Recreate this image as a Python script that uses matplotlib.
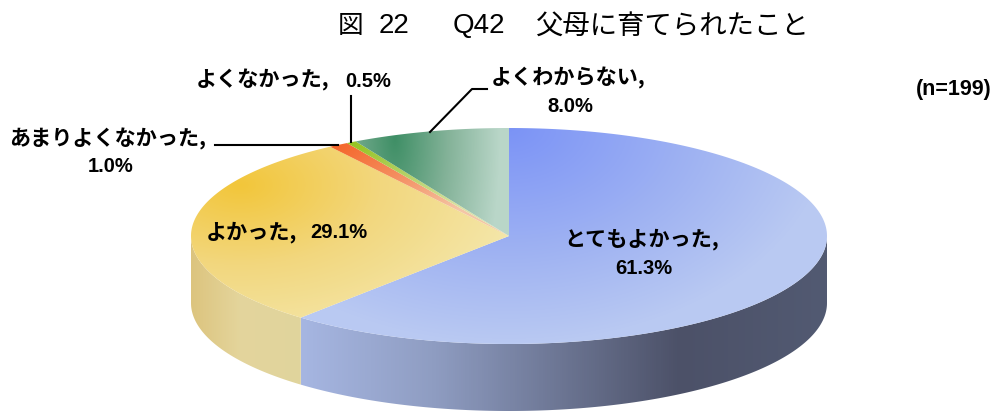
import numpy as np
import matplotlib
matplotlib.use("Agg")
import matplotlib.pyplot as plt
from matplotlib.colors import LinearSegmentedColormap
from matplotlib.patches import Polygon

# slices, clockwise from 12 o'clock
categories = ["とてもよかった", "よかった", "あまりよくなかった", "よくなかった", "よくわからない"]
shares = [61.3, 29.1, 1.0, 0.5, 8.0]

top_stops = [
    ["#7b93f6", "#9aaef3", "#b9c9f3"],
    ["#f3c63a", "#f2d77e", "#f4e6a8"],
    ["#f4662a", "#f48f62", "#f4c6a6"],
    ["#93c31c", "#b5d266", "#dbe3a6"],
    ["#3f8f66", "#83b298", "#b9d6c8"],
]
# where each top gradient starts (x, y) and how far it reaches (x, y)
top_src = [(509, 128, 320, 215), (240, 185, 280, 160), (335, 146, 175, 90),
           (345, 143, 165, 95), (395, 138, 105, 260)]
side_stops = {0: [(0.0, "#a6b6e2"), (0.25, "#8f9dc2"), (0.72, "#4c5168"), (1.0, "#525a72")],
              1: [(0.0, "#dcc47e"), (0.45, "#e4d59c"), (1.0, "#e0d49c")]}

title_parts = ["図", "22", "Q42", "父母に育てられたこと"]
n_label = "(n=199)"

cx, cy, rx, ry, depth = 509, 236, 318, 108, 67
JP = "Noto Sans CJK JP"
LATIN = "Liberation Sans"

fig = plt.figure(figsize=(9.95, 4.12), dpi=100)
ax = fig.add_axes([0, 0, 1, 1])
ax.axis("off")
grid_x, grid_y = np.meshgrid(np.arange(995) + 0.5, np.arange(412) + 0.5)


def rim(a1, a2):
    a = np.radians(np.linspace(a1, a2, 200))
    return np.column_stack([cx + rx * np.sin(a), cy - ry * np.cos(a)])


def fill(poly, t, cmap, z):
    patch = Polygon(poly, closed=True, fc="none", ec="none", transform=ax.transData)
    ax.add_patch(patch)
    im = ax.imshow(np.clip(t, 0, 1), cmap=cmap, vmin=0, vmax=1, extent=(0, 995, 412, 0),
                   aspect="auto", interpolation="bilinear", zorder=z)
    im.set_clip_path(patch)


edges = np.concatenate([[0], np.cumsum(shares)]) / sum(shares) * 360

# side wall, only the part facing the viewer
for i, (a1, a2) in {0: (90, edges[1]), 1: (edges[1], 270)}.items():
    front = rim(a1, a2)
    wall = np.vstack([front, (front + [0, depth])[::-1]])
    x0, x1 = front[:, 0].min(), front[:, 0].max()
    t = (grid_x - x0) / (x1 - x0)
    fill(wall, t, LinearSegmentedColormap.from_list("side", side_stops[i]), 1)

# top face
for i in range(len(shares)):
    poly = np.vstack([[cx, cy], rim(edges[i], edges[i + 1])])
    sx, sy, reach_x, reach_y = top_src[i]
    t = np.hypot((grid_x - sx) / reach_x, (grid_y - sy) / reach_y)
    fill(poly, t, LinearSegmentedColormap.from_list("top", top_stops[i]), 2)

# leader lines
ax.plot([430, 472, 487], [132, 89, 89], color="black", lw=1.5, zorder=3)
ax.plot([351, 351], [96, 142], color="black", lw=1.5, zorder=3)
ax.plot([215, 338], [144.5, 144.5], color="black", lw=1.5, zorder=3)


def jp(x, y, s, **kw):
    ax.text(x, y, s, family=[JP, "DejaVu Sans"], weight="bold", fontsize=15.2,
            va="center", zorder=4, **kw)


def num(x, y, s, size=14.5, **kw):
    ax.text(x, y, s, family=[LATIN, "DejaVu Sans"], weight="bold", fontsize=size,
            va="center", zorder=4, **kw)


jp(642, 239, categories[0] + ",", ha="center")
num(644, 268, f"{shares[0]}%", ha="center")
jp(206, 232, categories[1] + ",", ha="left")
num(310, 232, f"{shares[1]}%", ha="left")
jp(108, 139, categories[2] + ",", ha="center")
num(111, 166, f"{shares[2]}%", ha="center")
jp(196, 80, categories[3] + ",", ha="left")
num(345, 81, f"{shares[3]}%", ha="left")
jp(568, 78, categories[4] + ",", ha="center")
num(570, 106, f"{shares[4]}%", ha="center")
num(954, 89, n_label, size=15.5, ha="center")

# title pieces sit at fixed spots, the gaps are wide in the original
ax.text(350.5, 26, title_parts[0], family=JP, fontsize=18.5, ha="center", va="center")
ax.text(394, 26, title_parts[1], family=LATIN, fontsize=20, ha="center", va="center")
ax.text(478.5, 26, title_parts[2], family=LATIN, fontsize=20, ha="center", va="center")
ax.text(671.5, 26, title_parts[3], family=JP, fontsize=19.7, ha="center", va="center")

ax.set_xlim(0, 995)
ax.set_ylim(412, 0)
fig.savefig("out.png", dpi=100)
